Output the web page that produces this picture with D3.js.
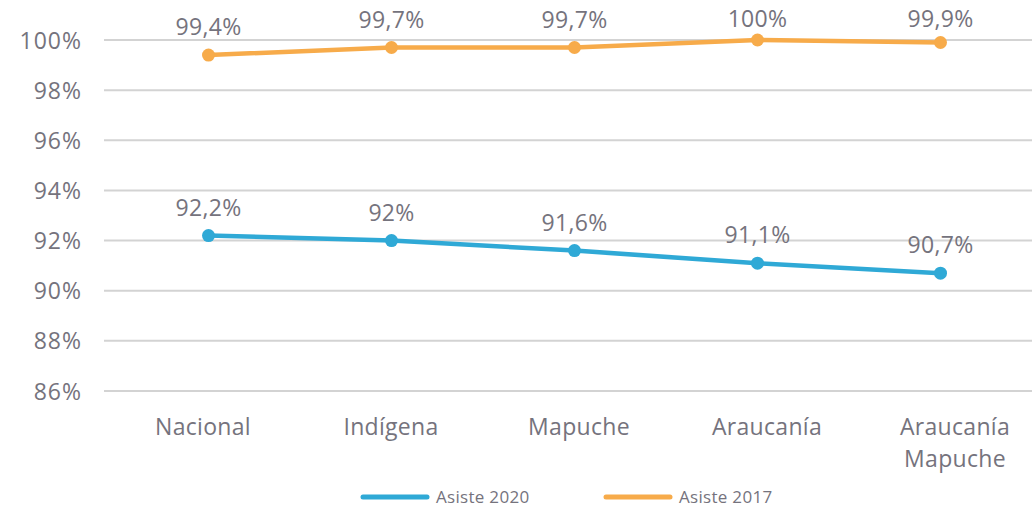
<!DOCTYPE html>
<html>
<head>
<meta charset="utf-8">
<script src="https://cdn.jsdelivr.net/npm/d3@7"></script>
<style>
  body { margin: 0; background: #fff; }
  svg text { font-family: "Open Sans", Lato, sans-serif; fill: #75737d; letter-spacing: 0.3px; }
</style>
</head>
<body>
<svg width="1032" height="510"></svg>
<script>
// data
const categories = ["Nacional", "Indígena", "Mapuche", "Araucanía", "Araucanía Mapuche"];
const asiste2020 = [92.2, 92.0, 91.6, 91.1, 90.7];
const asiste2017 = [99.4, 99.7, 99.7, 100, 99.9];
const labels2020 = ["92,2%", "92%", "91,6%", "91,1%", "90,7%"];
const labels2017 = ["99,4%", "99,7%", "99,7%", "100%", "99,9%"];
const yTicks = [86, 88, 90, 92, 94, 96, 98, 100];

const blue = "#2fa9d6", orange = "#f7ab4a";

const svg = d3.select("svg");

// scales
const x = d3.scaleBand().domain(categories).range([117, 1032]);
const xLab = d3.scaleBand().domain(categories).range([109, 1049]);
const y = d3.scaleLinear().domain([86, 100]).range([391, 40]);

// grid lines
svg.append("g")
  .selectAll("line")
  .data(yTicks)
  .enter().append("line")
    .attr("x1", 104).attr("x2", 1032)
    .attr("y1", d => y(d)).attr("y2", d => y(d))
    .attr("stroke", "#d3d3d3")
    .attr("stroke-width", 2);

// y axis labels
const yAxis = svg.append("g")
  .attr("transform", "translate(82,0)")
  .call(d3.axisLeft(y).tickValues(yTicks).tickSize(0).tickPadding(0).tickFormat(d => d + "%"));
yAxis.select(".domain").remove();
yAxis.selectAll("text")
  .style("font-size", "23px")
  .style("font-family", "'Open Sans', sans-serif")
  .style("letter-spacing", "1px")
  .attr("dy", "0.35em")
  .attr("fill", "#75737d");

// x labels
svg.append("g").selectAll("text")
  .data(categories)
  .enter().append("text")
    .attr("text-anchor", "middle")
    .attr("x", d => xLab(d) + xLab.bandwidth() / 2)
    .attr("y", 435)
    .style("font-size", "23px")
    .each(function(d) {
      const words = d === "Araucanía Mapuche" ? ["Araucanía", "Mapuche"] : [d];
      words.forEach((w, i) => {
        d3.select(this).append("tspan")
          .attr("x", xLab(d) + xLab.bandwidth() / 2)
          .attr("dy", i === 0 ? 0 : 32)
          .text(w);
      });
    });

const cx = d => x(d) + x.bandwidth() / 2;

function drawSeries(values, texts, color) {
  const pts = categories.map((c, i) => ({ c, v: values[i], t: texts[i] }));
  svg.append("path")
    .datum(pts)
    .attr("fill", "none")
    .attr("stroke", color)
    .attr("stroke-width", 4.5)
    .attr("stroke-linejoin", "round")
    .attr("d", d3.line().x(d => cx(d.c)).y(d => y(d.v)));
  svg.append("g").selectAll("circle")
    .data(pts)
    .enter().append("circle")
      .attr("cx", d => cx(d.c))
      .attr("cy", d => y(d.v))
      .attr("r", 6.5)
      .attr("fill", color);
  svg.append("g").selectAll("text")
    .data(pts)
    .enter().append("text")
      .attr("text-anchor", "middle")
      .attr("x", d => cx(d.c))
      .attr("y", d => Math.max(y(d.v) - 20, 27))
      .style("font-size", "23px")
      .text(d => d.t);
}

drawSeries(asiste2020, labels2020, blue);
drawSeries(asiste2017, labels2017, orange);

// legend
const legend = [{ name: "Asiste 2020", color: blue, x: 363 }, { name: "Asiste 2017", color: orange, x: 606 }];
const lg = svg.append("g").selectAll("g").data(legend).enter().append("g")
  .attr("transform", d => `translate(${d.x},497)`);
lg.append("line")
  .attr("x1", 0).attr("x2", 64)
  .attr("stroke", d => d.color)
  .attr("stroke-width", 5)
  .attr("stroke-linecap", "round");
lg.append("text")
  .attr("x", 73).attr("dy", "0.35em")
  .style("font-size", "17px")
  .text(d => d.name);
</script>
</body>
</html>
